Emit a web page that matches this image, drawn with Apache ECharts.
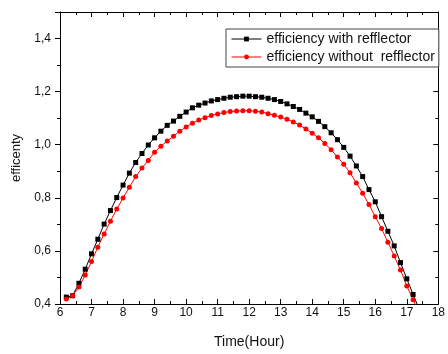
<!DOCTYPE html>
<html>
<head>
<meta charset="utf-8">
<script src="https://cdn.jsdelivr.net/npm/echarts@6/dist/echarts.min.js"></script>
<style>html,body{margin:0;padding:0;background:#fff}#c{width:448px;height:354px}</style>
</head>
<body>
<div id="c"></div>
<script>
const hours = [6.2,6.4,6.6,6.8,7.0,7.2,7.4,7.6,7.8,8.0,8.2,8.4,8.6,8.8,9.0,9.2,9.4,9.6,9.8,10.0,10.2,10.4,10.6,10.8,11.0,11.2,11.4,11.6,11.8,12.0,12.2,12.4,12.6,12.8,13.0,13.2,13.4,13.6,13.8,14.0,14.2,14.4,14.6,14.8,15.0,15.2,15.4,15.6,15.8,16.0,16.2,16.4,16.6,16.8,17.0,17.2,17.4];
const withReflector = [0.426,0.431,0.478,0.531,0.589,0.644,0.701,0.752,0.801,0.848,0.893,0.933,0.967,0.999,1.026,1.051,1.073,1.089,1.107,1.123,1.139,1.149,1.157,1.165,1.170,1.175,1.179,1.181,1.183,1.183,1.181,1.179,1.175,1.170,1.163,1.154,1.144,1.133,1.119,1.105,1.088,1.068,1.045,1.019,0.990,0.957,0.920,0.880,0.831,0.785,0.729,0.674,0.619,0.556,0.495,0.436,0.378];
const withoutReflector = [0.419,0.431,0.464,0.509,0.560,0.614,0.664,0.712,0.758,0.799,0.840,0.880,0.912,0.941,0.972,0.994,1.014,1.032,1.051,1.067,1.081,1.093,1.102,1.110,1.116,1.121,1.125,1.127,1.128,1.128,1.126,1.123,1.117,1.111,1.104,1.096,1.086,1.074,1.059,1.043,1.026,1.005,0.981,0.954,0.926,0.894,0.856,0.817,0.775,0.729,0.684,0.633,0.581,0.528,0.468,0.416,0.362];
const seriesNames = ['efficiency with refflector', 'efficiency without  refflector'];
const xName = 'Time(Hour)';
const yName = 'efficenty';

const font = 'Liberation Sans, Arial, sans-serif';
const chart = echarts.init(document.getElementById('c'), null, {renderer: 'canvas'});
const axisLine = {show: true, lineStyle: {color: '#000', width: 1}};
const xCommon = {type: 'value', min: 6, max: 18, interval: 1, splitLine: {show: false}, axisLine: axisLine};
const yCommon = {type: 'value', min: 0.4, max: 1.5, interval: 0.2, splitLine: {show: false}, axisLine: axisLine};
chart.setOption({
  animation: false,
  textStyle: {fontFamily: font},
  grid: {left: 60, right: 2, top: 12, bottom: 47, containLabel: false},
  legend: {
    orient: 'vertical', left: 226, top: 29,
    itemWidth: 30, itemHeight: 6, itemGap: 4,
    padding: [3, 4, 3, 5],
    borderColor: '#444', borderWidth: 1, backgroundColor: '#fff',
    lineStyle: {width: 1},
    textStyle: {fontSize: 14, color: '#111', fontFamily: font, lineHeight: 14}
  },
  xAxis: [
    Object.assign({}, xCommon, {position: 'bottom', name: xName, nameLocation: 'middle', nameGap: 31,
      nameTextStyle: {fontSize: 14, color: '#111', fontFamily: font},
      axisTick: {show: true, inside: true, length: 5, lineStyle: {color: '#000'}},
      minorTick: {show: true, splitNumber: 2, length: 3, lineStyle: {color: '#000'}},
      axisLabel: {fontSize: 12, color: '#111', margin: 3, fontFamily: font}}),
    Object.assign({}, xCommon, {position: 'top',
      axisTick: {show: true, inside: true, length: 5, lineStyle: {color: '#000'}},
      minorTick: {show: true, splitNumber: 2, length: 3, lineStyle: {color: '#000'}},
      axisLabel: {show: false}})
  ],
  yAxis: [
    Object.assign({}, yCommon, {position: 'left', name: yName, nameLocation: 'middle', nameGap: 31,
      nameTextStyle: {fontSize: 13, color: '#111', fontFamily: font},
      axisTick: {show: true, inside: false, length: 5, lineStyle: {color: '#000'}},
      minorTick: {show: true, splitNumber: 2, length: 3, lineStyle: {color: '#000'}},
      axisLabel: {fontSize: 12, color: '#111', margin: 9, fontFamily: font, showMaxLabel: false,
        formatter: v => v.toFixed(1).replace('.', ',')}}),
    Object.assign({}, yCommon, {position: 'right',
      axisTick: {show: true, inside: true, length: 5, lineStyle: {color: '#000'}},
      minorTick: {show: true, splitNumber: 2, length: 3, lineStyle: {color: '#000'}},
      axisLabel: {show: false}})
  ],
  series: [
    {name: seriesNames[0], type: 'line', xAxisIndex: 0, yAxisIndex: 0, clip: true,
      data: hours.map((h, i) => [h, withReflector[i]]),
      symbol: 'rect', symbolSize: 5, showAllSymbol: true,
      lineStyle: {color: '#000', width: 1}, itemStyle: {color: '#000'}},
    {name: seriesNames[1], type: 'line', xAxisIndex: 0, yAxisIndex: 0, clip: true,
      data: hours.map((h, i) => [h, withoutReflector[i]]),
      symbol: 'circle', symbolSize: 5, showAllSymbol: true,
      lineStyle: {color: '#ff0000', width: 1}, itemStyle: {color: '#ff0000'}}
  ]
});
</script>
</body>
</html>
